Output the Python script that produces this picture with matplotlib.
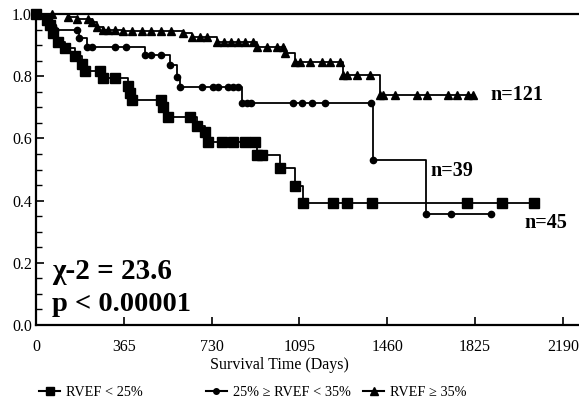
import matplotlib
matplotlib.use("Agg")
from matplotlib import pyplot as plt
from matplotlib.lines import Line2D

plt.rcParams['font.family'] = ['Liberation Serif', 'DejaVu Serif']

## Dados (dias, sobrevida)
low_t = [0, 45, 58, 70, 91, 120, 162, 190, 203, 266, 279, 328, 382, 390, 399, 520,
         528, 549, 640, 668, 702, 715, 773, 819, 869, 910, 918, 938, 1014, 1076,
         1110, 1234, 1292, 1396, 1791, 1937, 2070]
low_s = [1.0, 0.98, 0.965, 0.94, 0.91, 0.89, 0.865, 0.84, 0.817, 0.817, 0.794, 0.794,
         0.77, 0.745, 0.723, 0.723, 0.70, 0.669, 0.669, 0.64, 0.62, 0.588, 0.588,
         0.588, 0.588, 0.588, 0.547, 0.547, 0.505, 0.447, 0.392, 0.392, 0.392,
         0.392, 0.392, 0.392, 0.392]

mid_t = [0, 58, 70, 80, 170, 179, 212, 232, 328, 374, 453, 478, 519, 557, 585, 598,
         690, 737, 758, 799, 820, 841, 855, 875, 895, 1069, 1106, 1147, 1200, 1391,
         1402, 1622, 1725, 1891]
mid_s = [1.0, 0.975, 0.962, 0.949, 0.949, 0.923, 0.894, 0.894, 0.894, 0.894, 0.868,
         0.868, 0.868, 0.836, 0.797, 0.765, 0.765, 0.765, 0.765, 0.765, 0.765, 0.765,
         0.714, 0.714, 0.714, 0.714, 0.714, 0.714, 0.714, 0.714, 0.531, 0.357,
         0.357, 0.357]

high_t = [0, 66, 133, 170, 216, 232, 253, 279, 300, 330, 360, 400, 440, 480, 520,
          560, 611, 648, 680, 710, 752, 780, 810, 840, 870, 900, 918, 960, 1000,
          1027, 1035, 1076, 1097, 1139, 1189, 1222, 1264, 1276, 1292, 1334, 1388,
          1430, 1442, 1492, 1584, 1625, 1712, 1750, 1796, 1816]
high_s = [1.0, 1.0, 0.99, 0.985, 0.985, 0.975, 0.958, 0.949, 0.949, 0.949, 0.945,
          0.945, 0.945, 0.945, 0.945, 0.945, 0.939, 0.926, 0.926, 0.926, 0.91, 0.91,
          0.91, 0.91, 0.91, 0.91, 0.894, 0.894, 0.894, 0.894, 0.874, 0.846, 0.846,
          0.846, 0.846, 0.846, 0.846, 0.804, 0.804, 0.804, 0.804, 0.74, 0.74, 0.74,
          0.74, 0.74, 0.74, 0.74, 0.74, 0.74]

labels = ['RVEF < 25%', '25% \u2265 RVEF < 35%', 'RVEF \u2265 35%']
x_ticks = [0, 365, 730, 1095, 1460, 1825, 2190]

fig = plt.figure(figsize=(5.79, 4.04), dpi=100)
ax = fig.add_axes([0.0622, 0.1955, 0.9378, 0.7698])

estilos = [(low_t, low_s, 's', 6.5), (mid_t, mid_s, 'o', 4.5), (high_t, high_s, '^', 5.5)]
for t, s, m, ms in estilos:
    ax.plot(t, s, drawstyle='steps-post', color='black', lw=1.3)
    ax.plot(t, s, ls='none', marker=m, ms=ms, color='black', clip_on=False)

## Eixos
ax.set_xlim(0, 2257)
ax.set_ylim(0, 1.0)
ax.spines['right'].set_visible(False)
for sp in ['left', 'bottom', 'top']:
    ax.spines[sp].set_linewidth(1.6)
ax.set_xticks(x_ticks)
ax.set_yticks([0, 0.2, 0.4, 0.6, 0.8, 1.0])
ax.set_yticklabels(['0.0', '0.2', '0.4', '0.6', '0.8', '1.0'])
ax.set_yticks([i * 0.05 for i in range(21)], minor=True)
ax.tick_params(axis='both', which='major', direction='in', length=6, width=1.2,
               labelsize=11.5)
ax.tick_params(axis='y', which='minor', direction='in', length=4, width=1.0)
ax.tick_params(axis='x', pad=10)
ax.tick_params(axis='y', pad=3)
ax.tick_params(top=False, right=False)
ax.set_xlabel('Survival Time (Days)', fontsize=11.5)
ax.xaxis.set_label_coords(0.449, -0.103)

## Textos
ax.text(1887, 0.74, 'n=121', fontsize=14.5, fontweight='bold', va='center')
ax.text(1638, 0.495, 'n=39', fontsize=14.5, fontweight='bold', va='center')
ax.text(2032, 0.328, 'n=45', fontsize=14.5, fontweight='bold', va='center')
ax.text(66, 0.148, '\u03c7-2 = 23.6', fontsize=21, fontweight='bold', va='baseline')
ax.text(66, 0.045, 'p < 0.00001', fontsize=20.5, fontweight='bold', va='baseline')

## Legenda
marcas = ['s', 'o', '^']
tamanhos = [6, 4, 6]
posicoes = [0.067, 0.355, 0.627]
for lab, m, ms, px in zip(labels, marcas, tamanhos, posicoes):
    h = Line2D([], [], color='black', lw=1.5, marker=m, ms=ms)
    fig.legend([h], [lab], loc='center left', bbox_to_anchor=(px, 0.028),
               frameon=False, fontsize=10.3, handlelength=1.5, handletextpad=0.4,
               borderpad=0, borderaxespad=0)

fig.savefig('out.png', dpi=100)
